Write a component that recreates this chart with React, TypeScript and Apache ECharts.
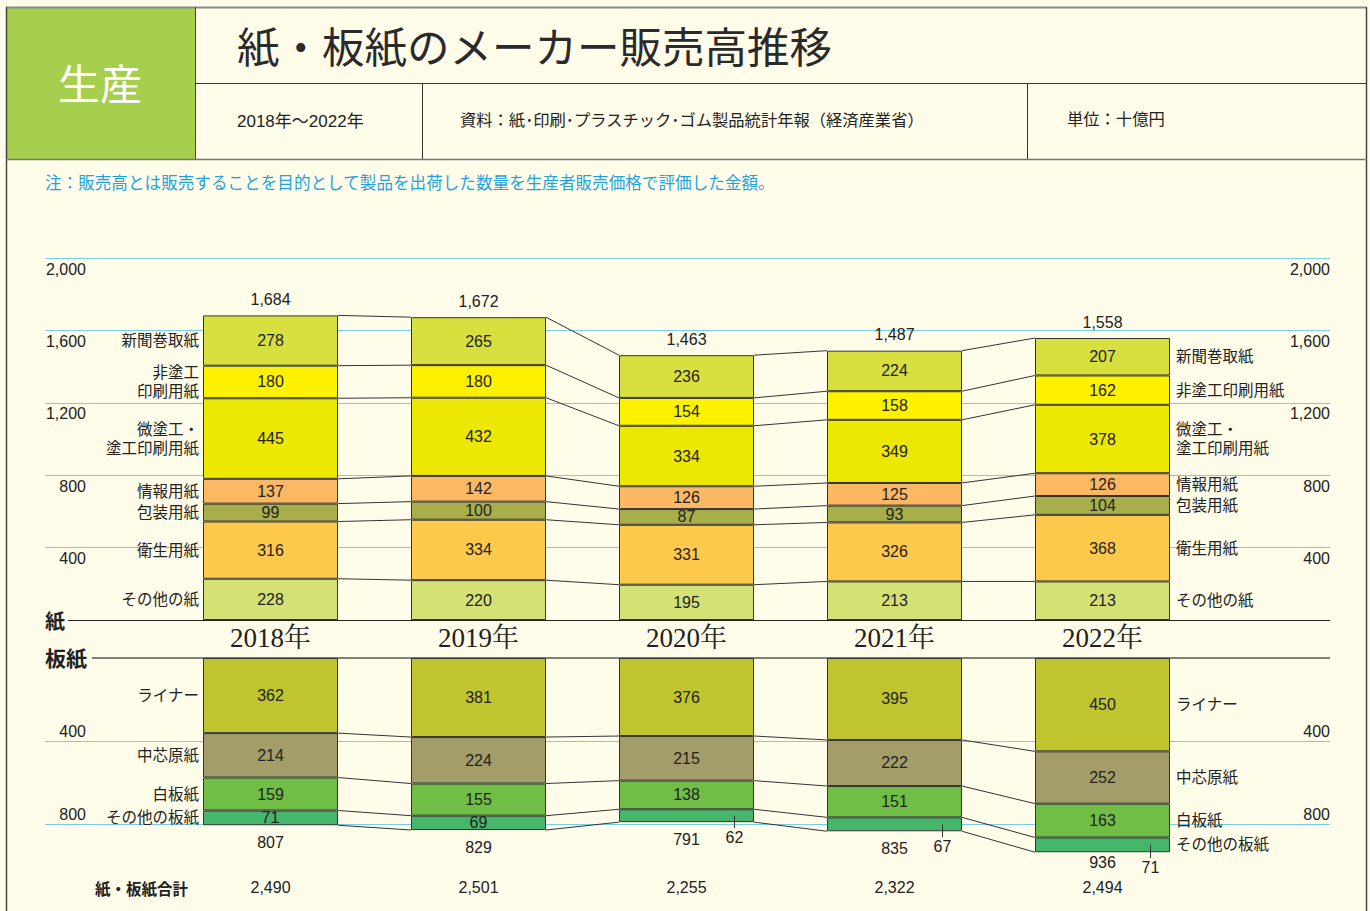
import React, { useEffect, useRef } from "react";
import * as echarts from "echarts";

// ---------------- data ----------------
const years = ["2018年", "2019年", "2020年", "2021年", "2022年"];

// paper (紙) – stacked bottom to top
const paperLeftNames = ["その他の紙", "衛生用紙", "包装用紙", "情報用紙", "微塗工・\n塗工印刷用紙", "非塗工\n印刷用紙", "新聞巻取紙"];
const paperRightNames = ["その他の紙", "衛生用紙", "包装用紙", "情報用紙", "微塗工・\n塗工印刷用紙", "非塗工印刷用紙", "新聞巻取紙"];
const otherPaper = [228, 220, 195, 213, 213];
const sanitaryPaper = [316, 334, 331, 326, 368];
const packagingPaper = [99, 100, 87, 93, 104];
const informationPaper = [137, 142, 126, 125, 126];
const coatedPaper = [445, 432, 334, 349, 378];
const uncoatedPaper = [180, 180, 154, 158, 162];
const newsprint = [278, 265, 236, 224, 207];
const paperTotals = [1684, 1672, 1463, 1487, 1558];

// paperboard (板紙) – stacked top to bottom
const boardNames = ["ライナー", "中芯原紙", "白板紙", "その他の板紙"];
const liner = [362, 381, 376, 395, 450];
const corrugatingMedium = [214, 224, 215, 222, 252];
const whiteboard = [159, 155, 138, 151, 163];
const otherBoard = [71, 69, 62, 67, 71];
const boardTotals = [807, 829, 791, 835, 936];
const otherBoardLabelOutside = [false, false, true, true, true];

const grandTotals = [2490, 2501, 2255, 2322, 2494];

const paperAxisRange = [0, 2000];
const boardAxisRange = [0, 800];
const tickInterval = 400;

// ---------------- styles / layout ----------------
const FONT = "'Liberation Sans', Arial, 'Noto Sans CJK JP', sans-serif";
const JFONT = "'Noto Sans CJK JP', 'Liberation Sans', sans-serif";
const SERIF = "'Liberation Serif', 'Noto Serif CJK JP', 'Noto Sans CJK JP', serif";
const BG = "#FFFCEA";
const GRID_BLUE = "#79CDEA";
const TXT = "#222";

const BAR_W = 135;
const PLOT_LEFT = 166.5;
const PLOT_W = 1040;
const UP_TOP = 258;
const UP_H = 362;
const LO_TOP = 658;
const LO_PX = 0.2075; // px per unit in the lower chart
const LO_MAX = 1000;
const RULE_LEFT = 45;
const RULE_RIGHT = 1330;
const TOTAL_ROW_Y = 888;

const paperStack = [otherPaper, sanitaryPaper, packagingPaper, informationPaper, coatedPaper, uncoatedPaper, newsprint];
const paperColors = ["#D4E174", "#FFC94B", "#A8AE49", "#FDB864", "#EDE704", "#FFF200", "#D7E03F"];
const boardStack = [liner, corrugatingMedium, whiteboard, otherBoard];
const boardColors = ["#BFC42F", "#A39E69", "#70BE45", "#46B76A"];

const fmt = (v: number) => v.toLocaleString("en-US");

function cumulative(stack: number[][], i: number) {
  const r = [0];
  for (const s of stack) r.push(r[r.length - 1] + s[i]);
  return r;
}

function lineEl(x1: number, y1: number, x2: number, y2: number, stroke = "#333", lineWidth = 1) {
  return { type: "line", shape: { x1, y1, x2, y2 }, style: { stroke, lineWidth } };
}

function textEl(text: string, x: number, y: number, align: string, fontSize: number) {
  return {
    type: "text",
    x,
    y,
    style: { text, fill: TXT, fontSize, fontFamily: FONT, align, verticalAlign: "middle", lineHeight: 19 },
  };
}

function overlay(
  i: number,
  api: any,
  stack: number[][],
  leftNames: string[],
  rightNames: string[],
  totals: number[],
  upward: boolean,
  outside: boolean[] | null
) {
  const children: any[] = [];
  const c = cumulative(stack, i);
  const cx = api.coord([i, 0])[0];
  const half = BAR_W / 2;
  const y = (v: number) => api.coord([i, v])[1];
  if (i < years.length - 1) {
    const n = cumulative(stack, i + 1);
    const nx = api.coord([i + 1, 0])[0];
    for (let k = 1; k < c.length; k++) {
      children.push(lineEl(cx + half, y(c[k]), nx - half, api.coord([i + 1, n[k]])[1]));
    }
  }
  const names = i === 0 ? leftNames : i === years.length - 1 ? rightNames : null;
  if (names) {
    for (let k = 0; k < stack.length; k++) {
      children.push(
        textEl(names[k], i === 0 ? cx - half - 4 : cx + half + 6, y((c[k] + c[k + 1]) / 2), i === 0 ? "right" : "left", 15.5)
      );
    }
  }
  const end = y(c[c.length - 1]);
  const totalY = upward ? end - 16 : Math.min(end + 17, TOTAL_ROW_Y - 26);
  children.push(textEl(fmt(totals[i]), cx, totalY, "center", 16));
  if (outside && outside[i]) {
    const last = stack.length - 1;
    const tx = cx + 48;
    children.push(lineEl(tx, y((c[last] + c[last + 1]) / 2), tx, end + 6, "#333", 1));
    children.push(textEl(String(stack[last][i]), tx, end + 15, "center", 16));
  }
  return { type: "group", children };
}

const barLabel = {
  show: true,
  position: "inside",
  color: TXT,
  fontSize: 16,
  fontFamily: FONT,
  textBorderWidth: 0,
};

function buildOption() {
  const paperSeries = paperStack.map((vals, k) => ({
    type: "bar",
    name: paperRightNames[k],
    xAxisIndex: 0,
    yAxisIndex: 0,
    stack: "paper",
    barWidth: BAR_W,
    itemStyle: { color: paperColors[k], borderColor: "#333", borderWidth: 1 },
    label: barLabel,
    data: vals,
  }));
  const boardSeries = boardStack.map((vals, k) => ({
    type: "bar",
    name: boardNames[k],
    xAxisIndex: 1,
    yAxisIndex: 1,
    stack: "board",
    barWidth: BAR_W,
    itemStyle: { color: boardColors[k], borderColor: "#333", borderWidth: 1 },
    label: barLabel,
    data:
      k === boardStack.length - 1
        ? vals.map((v, i) => (otherBoardLabelOutside[i] ? { value: v, label: { show: false } } : v))
        : vals,
  }));

  const ruleAxisLabel = (vAlign: string, pad: number[]) => ({
    inside: true,
    color: TXT,
    fontSize: 16,
    fontFamily: FONT,
    verticalAlign: vAlign,
    padding: pad,
    formatter: (v: number) => (v === 0 ? "" : fmt(v)),
  });

  const hdr = (text: string, x: number, y: number, size: number, extra: any = {}) => ({
    type: "text",
    x,
    y,
    style: { text, fill: TXT, fontSize: size, fontFamily: FONT, verticalAlign: "middle", ...extra },
  });

  return {
    animation: false,
    backgroundColor: BG,
    textStyle: { fontFamily: FONT },
    grid: [
      { left: PLOT_LEFT, width: PLOT_W, top: UP_TOP, height: UP_H },
      { left: PLOT_LEFT, width: PLOT_W, top: LO_TOP, height: LO_MAX * LO_PX },
      { left: RULE_LEFT, right: 1370 - RULE_RIGHT, top: UP_TOP, height: UP_H },
      { left: RULE_LEFT, right: 1370 - RULE_RIGHT, top: LO_TOP, height: boardAxisRange[1] * LO_PX },
    ],
    xAxis: [
      {
        type: "category",
        gridIndex: 0,
        data: years,
        axisLine: { show: false },
        axisTick: { show: false },
        axisLabel: { color: TXT, fontSize: 27, fontFamily: SERIF, margin: 4 },
      },
      {
        type: "category",
        gridIndex: 1,
        data: years,
        position: "bottom",
        axisLine: { show: false, onZero: false },
        axisTick: { show: false },
        axisLabel: {
          color: TXT,
          fontSize: 16,
          fontFamily: FONT,
          margin: 14,
          formatter: (_v: string, idx: number) => fmt(grandTotals[idx]),
        },
      },
      { type: "value", gridIndex: 2, show: false, min: 0, max: 1 },
      { type: "value", gridIndex: 3, show: false, min: 0, max: 1 },
    ],
    yAxis: [
      { type: "value", gridIndex: 0, show: false, min: paperAxisRange[0], max: paperAxisRange[1] },
      { type: "value", gridIndex: 1, show: false, min: 0, max: LO_MAX, inverse: true },
      {
        type: "value",
        gridIndex: 2,
        position: "left",
        min: paperAxisRange[0],
        max: paperAxisRange[1],
        interval: tickInterval,
        axisLine: { show: false },
        axisTick: { show: false },
        splitLine: { show: true, showMinLine: false, lineStyle: { color: GRID_BLUE, width: 1.2 } },
        axisLabel: { ...ruleAxisLabel("top", [3, 0, 0, 0]), align: "right", margin: 41 },
      },
      {
        type: "value",
        gridIndex: 2,
        position: "right",
        min: paperAxisRange[0],
        max: paperAxisRange[1],
        interval: tickInterval,
        axisLine: { show: false },
        axisTick: { show: false },
        splitLine: { show: false },
        axisLabel: { ...ruleAxisLabel("top", [3, 0, 0, 0]), align: "right", margin: 0 },
      },
      {
        type: "value",
        gridIndex: 3,
        position: "left",
        inverse: true,
        min: boardAxisRange[0],
        max: boardAxisRange[1],
        interval: tickInterval,
        axisLine: { show: false },
        axisTick: { show: false },
        splitLine: { show: true, showMinLine: false, lineStyle: { color: GRID_BLUE, width: 1.2 } },
        axisLabel: { ...ruleAxisLabel("bottom", [0, 0, 2, 0]), align: "right", margin: 41 },
      },
      {
        type: "value",
        gridIndex: 3,
        position: "right",
        inverse: true,
        min: boardAxisRange[0],
        max: boardAxisRange[1],
        interval: tickInterval,
        axisLine: { show: false },
        axisTick: { show: false },
        splitLine: { show: false },
        axisLabel: { ...ruleAxisLabel("bottom", [0, 0, 2, 0]), align: "right", margin: 0 },
      },
    ],
    series: [
      ...paperSeries,
      ...boardSeries,
      {
        type: "custom",
        xAxisIndex: 0,
        yAxisIndex: 0,
        clip: false,
        silent: true,
        z: 5,
        data: years.map((_, i) => [i, paperTotals[i]]),
        encode: { x: 0, y: 1 },
        renderItem: (params: any, api: any) =>
          overlay(params.dataIndex, api, paperStack, paperLeftNames, paperRightNames, paperTotals, true, null),
      },
      {
        type: "custom",
        xAxisIndex: 1,
        yAxisIndex: 1,
        clip: false,
        silent: true,
        z: 5,
        data: years.map((_, i) => [i, boardTotals[i]]),
        encode: { x: 0, y: 1 },
        renderItem: (params: any, api: any) =>
          overlay(params.dataIndex, api, boardStack, boardNames, boardNames, boardTotals, false, otherBoardLabelOutside),
      },
    ],
    graphic: [
      // header
      { type: "rect", shape: { x: 6, y: 7, width: 189, height: 152 }, style: { fill: "#A7CF4E" } },
      {
        type: "text",
        x: 100,
        y: 81,
        style: { text: "生産", fill: "#fff", fontSize: 42, fontFamily: JFONT, align: "center", verticalAlign: "middle" },
      },
      lineEl(6, 7.5, 1367, 7.5, "#8a8a8a", 2),
      lineEl(6.5, 7, 6.5, 911, "#444", 1.5),
      lineEl(1366.5, 7, 1366.5, 911, "#444", 1.5),
      lineEl(195.5, 7, 195.5, 159, "#444", 1),
      lineEl(195, 83.5, 1367, 83.5, "#333", 1),
      lineEl(422.5, 83, 422.5, 159, "#333", 1),
      lineEl(1027.5, 83, 1027.5, 159, "#333", 1),
      lineEl(6, 159.5, 1367, 159.5, "#777", 1.5),
      hdr("紙・板紙のメーカー販売高推移", 237, 44, 42.5, { fontFamily: JFONT, fill: "#2a2a2a" }),
      hdr("2018年～2022年", 237, 121, 17),
      hdr("資料：紙･印刷･プラスチック･ゴム製品統計年報（経済産業省）", 460, 120, 16.3),
      hdr("単位：十億円", 1067, 119, 16.3),
      hdr("注：販売高とは販売することを目的として製品を出荷した数量を生産者販売価格で評価した金額。", 45, 183, 16.6, {
        fill: "#1FA3E0",
      }),
      // section markers
      hdr("紙", 45, 620, 20, { fontWeight: "bold", fontFamily: JFONT }),
      lineEl(68, 620.5, RULE_RIGHT, 620.5, "#222", 1.2),
      hdr("板紙", 45, 657, 21, { fontWeight: "bold", fontFamily: JFONT }),
      lineEl(92, 658, RULE_RIGHT, 658, "#555", 1.5),
      hdr("紙・板紙合計", 95, TOTAL_ROW_Y, 15.5, { fontWeight: "bold", fontFamily: JFONT }),
    ],
  };
}

export default function App() {
  const ref = useRef<HTMLDivElement>(null);
  useEffect(() => {
    if (!ref.current) return;
    const chart = echarts.init(ref.current, null, { renderer: "svg" });
    chart.setOption(buildOption() as any);
    return () => chart.dispose();
  }, []);
  return (
    <div
      ref={ref}
      style={{ position: "absolute", left: 0, top: 0, width: 1370, height: 911, background: BG }}
    />
  );
}
